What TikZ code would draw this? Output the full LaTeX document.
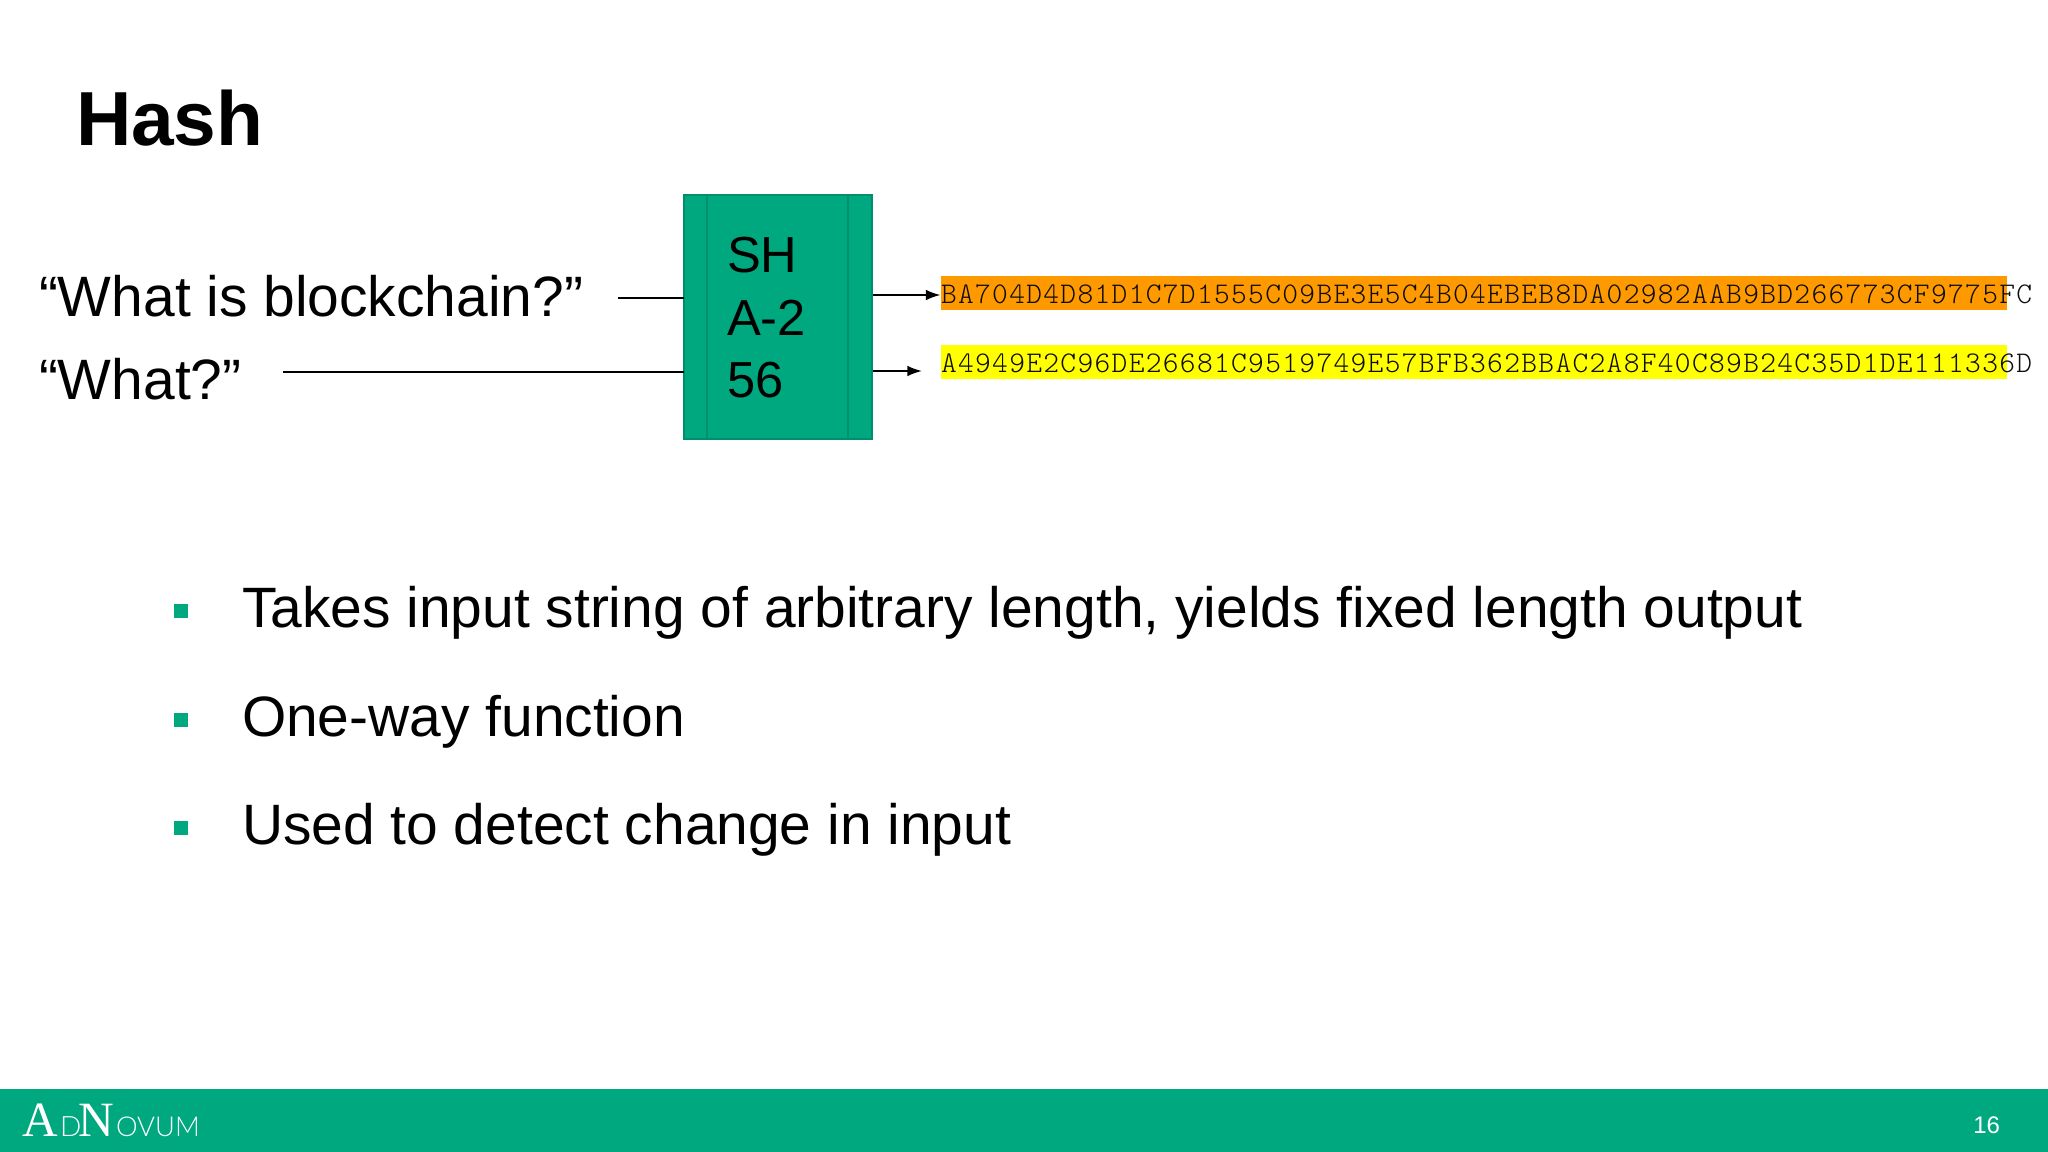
\documentclass[tikz,border=0pt]{standalone}
\usepackage{fontspec}
\setmainfont{Liberation Sans}
\newfontfamily\serifA{Liberation Serif}
\newfontfamily\logosans{Lato Light}
\newfontfamily\hashfont[LetterSpace=4.4]{Latin Modern Mono Light}
\definecolor{anGreen}{HTML}{00A880}
\definecolor{anEdge}{HTML}{008F6E}
\definecolor{barOrange}{HTML}{FF9900}
\definecolor{barYellow}{HTML}{FFFF00}
\newcommand{\fs}[1]{\fontsize{#1}{#1}\selectfont}
\usetikzlibrary{arrows.meta}
\tikzset{
  txt/.style={anchor=base west,inner sep=0pt,outer sep=0pt,text=black},
  big/.style={txt,font=\fs{42.7}},
  boxtext/.style={txt,font=\fs{38}},
  bullet/.style={txt,font=\fs{42.7}},
  mark box/.style={fill=anGreen,draw=none,minimum size=11pt,inner sep=0pt,anchor=center},
  hashbar/.style={anchor=north west,inner sep=0pt,outer sep=0pt,minimum width=799.5pt,minimum height=25.5pt},
  hashtext/.style={anchor=base west,inner sep=0pt,outer sep=0pt,text=black!95,font=\hashfont\fs{22.5}},
  wire/.style={draw=black,line width=1.3pt},
  arrowwire/.style={wire,-{Latex[length=11pt,width=8pt]}},
  logo/.style={anchor=base west,inner sep=0pt,outer sep=0pt,text=white}
}
\begin{document}
\begin{tikzpicture}[x=0.75pt,y=-0.75pt]
\useasboundingbox (0,0) rectangle (2048,1152);
\fill[white] (0,0) rectangle (2048,1152);
% footer
\node[fill=anGreen,anchor=north west,inner sep=0pt,minimum width=1536pt,minimum height=47.25pt] (footer) at (0,1089) {};
\node[logo,font=\serifA\fs{37}] (lA) at (22,1136) {A};
\node[logo,font=\logosans\fs{21}] (lD) at (60,1136) {D};
\node[logo,font=\serifA\fs{37}] (lN) at (78,1136) {N};
\node[logo,font=\logosans\fs{20.5}] (lO) at (116,1136) {OVUM};
\node[logo,anchor=base east,font=\fs{18}] (page) at (2000,1133) {16};
% title
\node[txt,font=\bfseries\fs{57.5}] (title) at (76,146) {Hash};
% inputs
\node[big] (t1) at (39,316) {“What is blockchain?”};
\node[big] (t2) at (39,399) {“What?”};
% box
\node[draw=anEdge,line width=1.5pt,fill=anGreen,anchor=north west,inner sep=0pt,outer sep=0pt,minimum width=140.7pt,minimum height=183.3pt] (box) at (684,195) {};
\coordinate (v1) at (707,0);
\coordinate (v2) at (848,0);
\draw[draw=anEdge,line width=1.2pt] (v1 |- box.north) -- (v1 |- box.south);
\draw[draw=anEdge,line width=1.2pt] (v2 |- box.north) -- (v2 |- box.south);
\node[boxtext] (s1) at (727,272) {SH};
\node[boxtext] (s2) at (727,335) {A-2};
\node[boxtext] (s3) at (727,397) {56};
% bars
\node[hashbar,fill=barOrange] (bar1) at (940.5,275.5) {};
\node[hashbar,fill=barYellow] (bar2) at (940.5,345) {};
\node[hashtext] (h1) at (941,303) {BA704D4D81D1C7D1555C09BE3E5C4B04EBEB8DA02982AAB9BD266773CF9775FC};
\node[hashtext] (h2) at (941,372) {A4949E2C96DE26681C9519749E57BFB362BBAC2A8F40C89B24C35D1DE111336D};
% connectors
\coordinate (i1) at (618,298);
\coordinate (i2) at (283,372);
\coordinate (o1) at (873,295);
\coordinate (o2) at (873,371);
\coordinate (e2) at (922,371);
\draw[wire] (i1) -- (i1 -| box.west);
\draw[wire] (i2) -- (i2 -| box.west);
\draw[arrowwire] (o1) -- (o1 -| bar1.west);
\draw[arrowwire] (o2) -- (e2);
% bullets
\node[mark box] (m1) at (181,611) {};
\node[mark box] (m2) at (181,720) {};
\node[mark box] (m3) at (181,828) {};
\node[bullet] (b1) at (242,627) {Takes input string of arbitrary length, yields fixed length output};
\node[bullet] (b2) at (242,736) {One-way function};
\node[bullet] (b3) at (242,844) {Used to detect change in input};
\end{tikzpicture}
\end{document}
